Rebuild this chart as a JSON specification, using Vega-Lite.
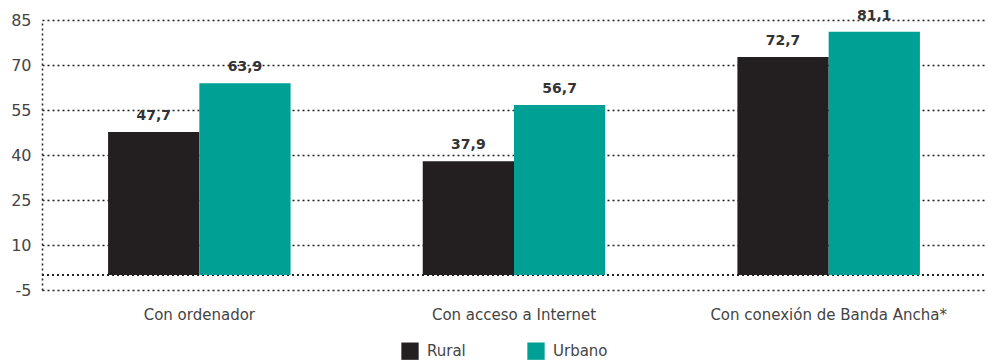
{
  "$schema": "https://vega.github.io/schema/vega-lite/v6.json",
  "width": 944,
  "height": 270,
  "autosize": "none",
  "padding": {"left": 42, "top": 20, "right": 2, "bottom": 71},
  "background": "white",
  "config": {
    "locale": {"number": {"decimal": ",", "thousands": ".", "grouping": [3], "currency": ["", " €"]}},
    "view": {"stroke": null},
    "font": "DejaVu Sans"
  },
  "data": {
    "values": [
      {"categoria": "Con ordenador", "zona": "Rural", "valor": 47.7},
      {"categoria": "Con ordenador", "zona": "Urbano", "valor": 63.9},
      {"categoria": "Con acceso a Internet", "zona": "Rural", "valor": 37.9},
      {"categoria": "Con acceso a Internet", "zona": "Urbano", "valor": 56.7},
      {"categoria": "Con conexión de Banda Ancha*", "zona": "Rural", "valor": 72.7},
      {"categoria": "Con conexión de Banda Ancha*", "zona": "Urbano", "valor": 81.1}
    ]
  },
  "encoding": {
    "x": {
      "field": "categoria", "type": "nominal", "sort": null,
      "scale": {"paddingInner": 0.42, "paddingOuter": 0.21},
      "axis": {"title": null, "labelAngle": 0, "domain": false, "ticks": false, "labelPadding": 17, "labelFontSize": 15, "labelColor": "#444", "labelLimit": 0, "grid": false}
    },
    "xOffset": {"field": "zona", "type": "nominal", "scale": {"paddingInner": 0, "paddingOuter": 0}}
  },
  "layer": [
    {
      "mark": {"type": "rule", "strokeDash": [2, 3], "color": "#222", "strokeWidth": 1.3},
      "encoding": {"y": {"datum": 0, "type": "quantitative", "scale": {"domain": [-5, 85], "nice": false, "zero": false}}, "x": {"value": 0}, "x2": {"value": 944}, "xOffset": null}
    },
    {
      "mark": {"type": "bar"},
      "encoding": {
        "y": {
          "field": "valor", "type": "quantitative",
          "scale": {"domain": [-5, 85], "nice": false, "zero": false},
          "axis": {"title": null, "values": [-5, 10, 25, 40, 55, 70, 85], "ticks": false, "labelPadding": 11, "labelFontSize": 16, "labelColor": "#444",
            "labelExpr": "toString(datum.value)",
            "grid": true, "gridDash": [2, 3], "gridColor": "#222", "gridWidth": 1.5,
            "domain": true, "domainDash": [2, 3], "domainColor": "#222", "domainWidth": 1.5}
        },
        "y2": {"datum": 0},
        "color": {
          "field": "zona", "type": "nominal",
          "scale": {"domain": ["Rural", "Urbano"], "range": ["#231f20", "#00a094"]},
          "legend": {"title": null, "orient": "none", "legendX": 359, "legendY": 322, "direction": "horizontal", "symbolType": "square", "symbolSize": 300, "symbolStrokeWidth": 0, "labelFontSize": 15, "labelColor": "#444", "columnPadding": 61, "labelOffset": 8}
        }
      }
    },
    {
      "mark": {"type": "text", "baseline": "bottom", "dy": -9, "fontSize": 14, "fontWeight": "bold", "color": "#333"},
      "encoding": {
        "y": {"field": "valor", "type": "quantitative"},
        "text": {"field": "valor", "type": "quantitative", "format": ".1f"}
      }
    }
  ]
}
